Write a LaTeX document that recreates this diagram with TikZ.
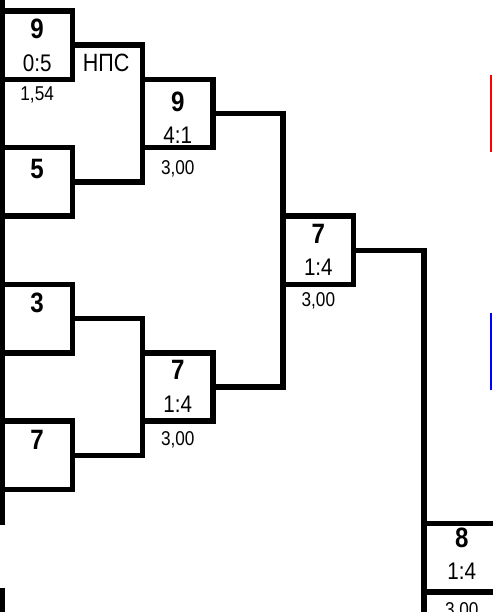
\documentclass[tikz,border=0pt]{standalone}
\usepackage{fontspec}
\setmainfont[FakeStretch=0.86]{Liberation Sans}
\usetikzlibrary{calc}
\begin{document}
\begin{tikzpicture}[x=70.3pt,y=-68.36pt,
  box/.style={draw,line width=5.5pt,minimum width=70.3pt,minimum height=68.36pt,inner sep=0pt,outer sep=0pt},
  wire/.style={line width=5.5pt},
  big/.style={inner sep=0pt,text depth=0pt,font=\fontsize{28}{28}\selectfont\bfseries},
  score/.style={inner sep=0pt,text depth=0pt,font=\fontsize{24}{24}\selectfont},
  small/.style={inner sep=0pt,text depth=0pt,font=\fontsize{20}{20}\selectfont}]
\useasboundingbox ([shift={(-2pt,11pt)}]0,0) rectangle ([shift={(490pt,-601pt)}]0,0);
% boxes
\node[box] (A) at (0.5,0.5) {};
\node[box] (B) at (0.5,2.5) {};
\node[box] (C) at (2.5,1.5) {};
\node[box] (D) at (0.5,4.5) {};
\node[box] (E) at (0.5,6.5) {};
\node[box] (F) at (2.5,5.5) {};
\node[box] (G) at (4.5,3.5) {};
\node[box,minimum width=76pt,anchor=west] (H) at (6,8) {};
% texts
\node[big] (A1) at ([yshift=-18pt]A.north) {9};
\node[score] (A2) at ([yshift=-52.5pt]A.north) {0:5};
\node[small] (A3) at ([yshift=-14pt]A.south) {1,54};
\node[score,font=\fontsize{25}{25}\selectfont] (npc) at (1.48,0.76) {НПС};
\node[big] (B1) at ([yshift=-21pt]B.north) {5};
\node[big] (C1) at ([yshift=-22pt]C.north) {9};
\node[score] (C2) at ([yshift=-55.5pt]C.north) {4:1};
\node[small] (C3) at ([yshift=-20pt]C.south) {3,00};
\node[big] (D1) at ([yshift=-18.7pt]D.north) {3};
\node[big] (E1) at ([yshift=-19pt]E.north) {7};
\node[big] (F1) at ([yshift=-17.5pt]F.north) {7};
\node[score] (F2) at ([yshift=-51pt]F.north) {1:4};
\node[small] (F3) at ([yshift=-17pt]F.south) {3,00};
\node[big] (G1) at ([yshift=-18pt]G.north) {7};
\node[score] (G2) at ([yshift=-51pt]G.north) {1:4};
\node[small] (G3) at ([yshift=-15pt]G.south) {3,00};
\node[big] (H1) at ([yshift=-14.5pt]H.north) {8};
\node[score] (H2) at ([yshift=-48pt]H.north) {1:4};
\node[small] (H3) at ([yshift=-17pt]H.south) {3,00};
% connectors
\draw[wire] (A.east) -- (A.east -| C.west) -- (B.east -| C.west) -- (B.east);
\draw[wire] (C.east) -- (C.east -| G.west) -- (F.east -| G.west) -- (F.east);
\draw[wire] (D.east) -- (D.east -| F.west) -- (E.east -| F.west) -- (E.east);
\coordinate (Hbot) at (6,9);
\draw[wire] (G.east) -- (G.east -| H.west) -- (Hbot);
% left rail
\coordinate (L0) at (0,-0.3);
\coordinate (L1) at (0,7.52);
\coordinate (L2) at (0,8.44);
\coordinate (L3) at (0,9);
\draw[wire] (L0) -- (L1);
\draw[wire] (L2) -- (L3);
% coloured marks at right edge
\draw[red,line width=2.5pt] (6.956,0.936) -- (6.956,2.06);
\draw[blue,line width=2.5pt] (6.956,4.42) -- (6.956,5.54);
\end{tikzpicture}
\end{document}
